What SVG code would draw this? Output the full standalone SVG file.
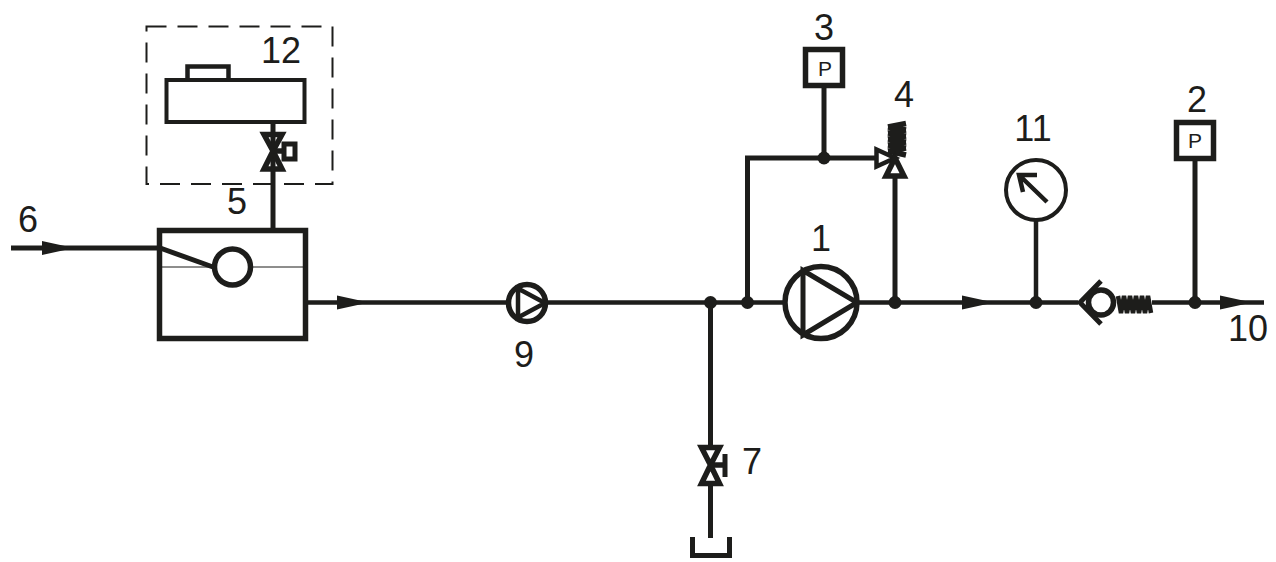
<svg xmlns="http://www.w3.org/2000/svg" width="1276" height="562" viewBox="0 0 1276 562">
<style>
.l{fill:none;stroke:#1d1d1b;stroke-width:4.5;stroke-linejoin:miter}
.t{fill:none;stroke:#1d1d1b;stroke-width:5}
.v{fill:none;stroke:#1d1d1b;stroke-width:5.500;stroke-linejoin:miter}
.w{fill:#fff;stroke:#1d1d1b;stroke-width:5.500}
.n{font-family:"Liberation Sans",Arial,sans-serif;font-size:36px;fill:#1d1d1b;text-anchor:middle}
.p{font-family:"Liberation Sans",Arial,sans-serif;font-size:21px;fill:#1d1d1b;text-anchor:middle}
</style>
<defs>
<circle id="j" r="6.500" fill="#1d1d1b"/>
<path id="a" d="M0-7L32 0L0 7Z" fill="#1d1d1b"/>
</defs>
<rect width="1276" height="562" fill="#fff"/>
<g id="connectors">
<path class="t" d="M11 248H160L213 267"/>
<path class="t" d="M273 122V229"/>
<path class="l" d="M308 302.500H1078M1152 302.500H1264"/>
<path class="t" d="M747.500 302V158H875"/>
<path class="t" d="M824 87V158"/>
<path class="t" d="M895 178V302"/>
<path class="l" d="M1036 220V302"/>
<path class="t" d="M1195 161V302"/>
<path class="t" d="M710.500 302V445M710.500 486V538"/>
<use href="#a" x="42" y="248"/>
<use href="#a" x="337" y="302.500"/>
<use href="#a" x="962" y="302.500"/>
<use href="#a" x="1220" y="302.500"/>
<use href="#j" x="710.500" y="302.500"/>
<use href="#j" x="747.500" y="302.500"/>
<use href="#j" x="895" y="302.500"/>
<use href="#j" x="824" y="158"/>
<use href="#j" x="1036" y="302.500"/>
<use href="#j" x="1195" y="302.500"/>
</g>
<g id="node-12">
<rect x="146.500" y="26.500" width="186" height="157.500" fill="none" stroke="#1d1d1b" stroke-width="2" stroke-dasharray="20 11"/>
<path class="l" d="M187.500 79V66.500H228.500V79"/>
<rect x="166.500" y="80" width="138" height="42" fill="none" stroke="#1d1d1b" stroke-width="4"/>
<path class="v" d="M264 134.500H282L273 151L282 169H264L273 151Z"/>
<path class="v" d="M273 151H284"/>
<rect x="284" y="144" width="11" height="15" fill="#fff" stroke="#1d1d1b" stroke-width="5"/>
<text class="n" x="281" y="63">12</text>
</g>
<g id="node-5">
<rect x="159.500" y="230.500" width="146" height="108" fill="none" stroke="#1d1d1b" stroke-width="5.500"/>
<path d="M160 267H305" stroke="#1d1d1b" stroke-width="1" fill="none"/>
<circle class="w" cx="232.500" cy="267" r="18"/>
<text class="n" x="237" y="214">5</text>
</g>
<g id="node-6"><text class="n" x="28" y="232">6</text></g>
<g id="node-9">
<circle class="w" cx="527" cy="303" r="18.500"/>
<path class="l" d="M518 288.500V317.500L545 303Z"/>
<text class="n" x="524" y="367">9</text>
</g>
<g id="node-1">
<circle class="w" cx="821" cy="302.500" r="36"/>
<path class="t" d="M803 270.500V335L857 302.500Z"/>
<text class="n" x="821" y="251">1</text>
</g>
<g id="node-3">
<rect class="w" x="805.500" y="49.500" width="37" height="36"/>
<text class="p" x="825" y="76">P</text>
<text class="n" x="824" y="40">3</text>
</g>
<g id="node-4">
<path class="v" d="M888 127L906 123.500M888 127L906 130M888 133L906 130M888 133L906 136M888 139L906 136M888 139L906 142M888 145L906 142M888 145L906 148M888 151L906 148M888 151L906 155"/>
<path class="l" d="M876.500 149.500V166.500L895 158Z"/>
<path class="v" d="M886 176H904L895 158Z"/>
<text class="n" x="904" y="107">4</text>
</g>
<g id="node-11">
<circle cx="1036" cy="190" r="30" fill="#fff" stroke="#1d1d1b" stroke-width="4"/>
<path class="l" d="M1047 202L1019 175M1037 175H1019L1023 192"/>
<text class="n" x="1033" y="141">11</text>
</g>
<g id="node-check">
<path class="t" d="M1101 281L1080 302.500L1101 324"/>
<circle cx="1101" cy="302.500" r="12.500" fill="#fff" stroke="#1d1d1b" stroke-width="5.500"/>
<path class="l" d="M1118 296L1121 313L1124 296L1127 313L1130 296L1133 313L1136 296L1139 313L1142 296L1145 313L1148 296L1151 313"/>
</g>
<g id="node-2">
<rect class="w" x="1176.500" y="122.500" width="37" height="36"/>
<text class="p" x="1195" y="148">P</text>
<text class="n" x="1197" y="112">2</text>
</g>
<g id="node-10"><text class="n" x="1248" y="341">10</text></g>
<g id="node-7">
<path class="v" d="M701.500 447.500H719.500L710.500 465L719.500 483.500H701.500L710.500 465Z"/>
<path class="v" d="M710.500 465H725"/>
<path class="t" d="M725 454V477"/>
<path class="t" d="M692.500 537V555.500H729.500V537"/>
<text class="n" x="752" y="474">7</text>
</g>
</svg>
